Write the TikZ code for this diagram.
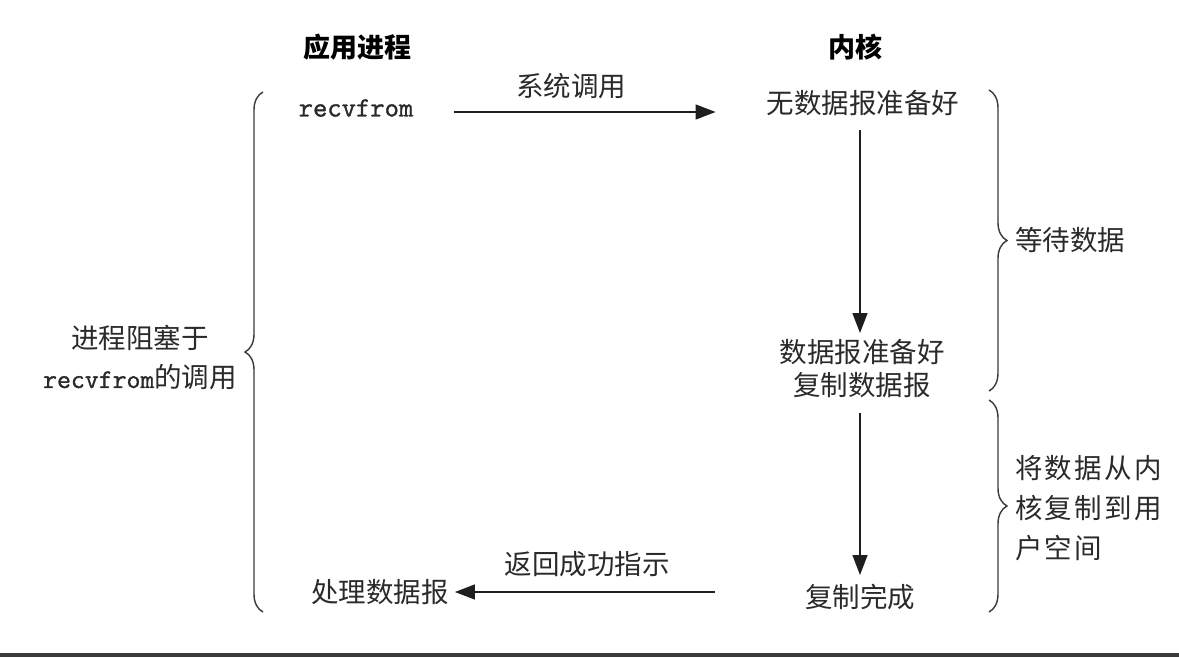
\documentclass[tikz,border=0pt]{standalone}
\usepackage{fontspec}
\setmainfont{Noto Sans CJK SC}
\setmonofont[FakeBold=1.2]{Latin Modern Mono}
\usetikzlibrary{arrows.meta,decorations.pathreplacing}
\definecolor{txtgray}{HTML}{2A2A2A}
\definecolor{lngray}{HTML}{1E1E1E}
\definecolor{brgray}{HTML}{3A3A3A}
\definecolor{barcol}{HTML}{3A3A3A}
\begin{document}
\begin{tikzpicture}[x=1pt,y=-1pt,
  txt/.style={text=txtgray,inner sep=0pt,font=\fontsize{27.5}{39}\selectfont},
  ttl/.style={text=black,inner sep=0pt,font=\bfseries\fontsize{27}{30}\selectfont},
  mono/.style={text=txtgray,inner sep=0pt,font=\ttfamily\fontsize{27.8}{30}\selectfont},
  arr/.style={draw=lngray,line width=1.4pt,-{Triangle[length=20pt,width=15pt]}},
  brc/.style={draw=brgray,line width=1.4pt,decorate,decoration={brace,amplitude=18pt}}]
\useasboundingbox (0,0) rectangle (1179,657);
\fill[white] (0,0) rectangle (1179,657);
\fill[barcol] (0,653) rectangle (1179,657);

\node[ttl] (app) at (357,47) {应用进程};
\node[ttl] (kern) at (855,47) {内核};

\node[mono] (recv) at (356,108) {recvfrom};
\node[txt] (syscall) at (571,86) {系统调用};
\node[txt] (nodata) at (863,103) {无数据报准备好};
\node[txt] (ready) at (862,352) {数据报准备好};
\node[txt] (copy) at (862,385) {复制数据报};
\node[txt] (done) at (860,597) {复制完成};
\node[txt] (ret) at (587,564) {返回成功指示};
\node[txt] (proc) at (380,592) {处理数据报};

\node[txt,align=center] (block) at (140,358) {进程阻塞于\\{\ttfamily\fontsize{27}{39}\selectfont recvfrom}的调用};
\node[txt,anchor=west] (wait) at (1015,240) {等待数据};
\node[txt,anchor=west,align=left,font=\fontsize{27.5}{40}\selectfont\addfontfeatures{LetterSpace=8}] (copylbl) at (1015,508) {将数据从内\\核复制到用\\户空间};

\draw[arr] ([shift={(41,4)}]recv.east) -- ([shift={(-51,9)}]nodata.west);
\draw[arr] ([shift={(-3,27)}]nodata.center) -- ([shift={(-2,-19)}]ready.center);
\draw[arr] ([shift={(-2,28)}]copy.center) -- ([shift={(0,-22)}]done.center);
\draw[arr] ([shift={(-90,-5)}]done.west) -- ([shift={(6,0)}]proc.east);

\draw[brc] (263,612) -- (263,92);
\draw[brc] (989,90) -- (989,391);
\draw[brc] (989,400) -- (989,612);
\end{tikzpicture}
\end{document}
